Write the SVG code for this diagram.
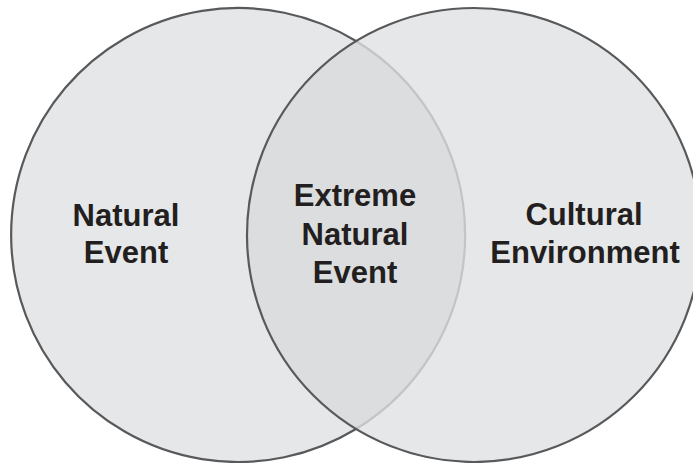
<svg xmlns="http://www.w3.org/2000/svg" width="693" height="463" viewBox="0 0 693 463">
<style>
.fill{fill:#e6e7e8;stroke:none}
.lens{fill:#dcdddf;stroke:none}
.edge{fill:none;stroke:#58595b;stroke-width:2.2}
.inner{fill:none;stroke:#c3c4c6;stroke-width:2.2}
.lbl{font-family:"Liberation Sans",Arial,sans-serif;font-weight:bold;font-size:31px;fill:#231f20;text-anchor:middle}
</style>
<rect width="693" height="463" fill="#ffffff"/>
<g id="natural-event">
<circle class="fill" cx="238" cy="235" r="227"/>
</g>
<g id="cultural-environment">
<circle class="fill" cx="474" cy="235" r="227"/>
</g>
<g id="extreme-natural-event">
<path class="lens" d="M356,41 A227,227 0 0 1 356,429 A227,227 0 0 1 356,41 Z"/>
</g>
<g id="connectors">
<path class="inner" d="M356,41 A227,227 0 0 1 356,429"/>
<path class="edge" d="M356,429 A227,227 0 1 1 356,41"/>
<circle class="edge" cx="474" cy="235" r="227"/>
</g>
<g id="labels">
<text class="lbl" x="126" y="226">Natural</text>
<text class="lbl" x="126" y="263">Event</text>
<text class="lbl" x="355" y="206">Extreme</text>
<text class="lbl" x="355" y="245">Natural</text>
<text class="lbl" x="355" y="283">Event</text>
<text class="lbl" x="584" y="225">Cultural</text>
<text class="lbl" x="585" y="263">Environment</text>
</g>
</svg>
